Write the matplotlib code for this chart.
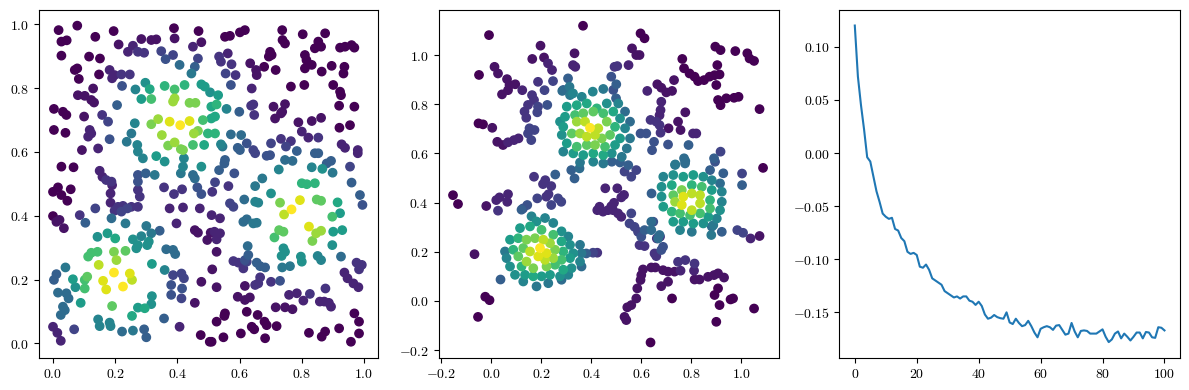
import matplotlib
matplotlib.use("Agg")
import matplotlib.pyplot as plt
import numpy as np
from matplotlib.ticker import FuncFormatter, MultipleLocator

plt.rcParams['mathtext.fontset'] = 'cm'

# ---- panel 1: uniform-ish samples, colour = density value ----
x1 = [0.018, 0.078, 0.195, 0.136, 0.027, 0.044, 0.211, 0.284, 0.316, 0.332,
      0.389, 0.391, 0.468, 0.477, 0.450, 0.027, 0.116, 0.151, 0.241, 0.257,
      0.273, 0.293, 0.348, 0.362, 0.386, 0.466, 0.407, 0.456, 0.445, 0.078,
      0.070, 0.148, 0.182, 0.190, 0.198, 0.220, 0.247, 0.083, 0.222, 0.265,
      0.297, 0.311, 0.359, 0.391, 0.423, 0.477, 0.488, 0.129, 0.080, 0.102,
      0.123, 0.132, 0.284, 0.316, 0.386, 0.391, 0.439, 0.458, 0.509, 0.003,
      0.032, 0.043, 0.206, 0.100, 0.158, 0.177, 0.263, 0.338, 0.316, 0.375,
      0.409, 0.439, 0.482, 0.509, 0.003, 0.040, 0.118, 0.113, 0.123, 0.182,
      0.252, 0.350, 0.453, 0.466, 0.498, 0.237, 0.271, 0.273, 0.370, 0.391,
      0.411, 0.418, 0.450, 0.486, 0.093, 0.145, 0.289, 0.332, 0.359, 0.418,
      0.421, 0.477, 0.027, 0.066, 0.150, 0.159, 0.171, 0.188, 0.273, 0.298,
      0.327, 0.411, 0.450, 0.456, 0.273,
      # upper right
      0.617, 0.601, 0.553, 0.569, 0.737, 0.746, 0.738, 0.803, 0.875, 0.853,
      0.862, 0.842, 0.923, 0.939, 0.960, 0.969, 0.534, 0.540, 0.562, 0.574,
      0.555, 0.587, 0.634, 0.653, 0.655, 0.679, 0.698, 0.694, 0.703, 0.716,
      0.810, 0.815, 0.810, 0.832, 0.864, 0.896, 0.937, 0.934, 0.572, 0.639,
      0.765, 0.808, 0.901, 0.923, 0.926, 0.505, 0.531, 0.526, 0.558, 0.521,
      0.599, 0.644, 0.637, 0.647, 0.709, 0.746, 0.737, 0.733, 0.714, 0.789,
      0.800, 0.832, 0.862, 0.920, 0.969, 0.921, 0.955, 0.521, 0.572, 0.605,
      0.540, 0.545, 0.594, 0.601, 0.623, 0.644, 0.650, 0.687, 0.698, 0.701,
      0.733, 0.749, 0.765, 0.784, 0.821, 0.853, 0.842, 0.853, 0.928, 0.939,
      0.980, 0.980, 0.746, 0.770, 0.553, 0.551, 0.534, 0.583, 0.673, 0.726,
      0.832, 0.866, 0.899, 0.880, 0.894, 0.955, 0.521,
      # lower left
      0.000, 0.016, 0.027, 0.046, 0.057, 0.190, 0.185, 0.185, 0.273, 0.279,
      0.136, 0.209, 0.225, 0.239, 0.220, 0.198, 0.252, 0.273, 0.357, 0.389,
      0.415, 0.375, 0.418, 0.464, 0.477, 0.472, 0.000, 0.011, 0.021, 0.035,
      0.086, 0.104, 0.188, 0.233, 0.300, 0.316, 0.343, 0.397, 0.456, 0.466,
      0.496, 0.507, 0.143, 0.175, 0.200, 0.257, 0.273, 0.268, 0.284, 0.308,
      0.303, 0.113, 0.123, 0.143, 0.196, 0.204, 0.233, 0.147, 0.196, 0.161,
      0.171, 0.225, 0.247, 0.254, 0.318, 0.364, 0.386, 0.393, 0.359, 0.110,
      0.102, 0.102, 0.064, 0.072, 0.040, 0.011, 0.003, 0.016, 0.043, 0.050,
      0.032, 0.025, 0.038, 0.089, 0.190, 0.318, 0.316, 0.295, 0.273, 0.254,
      0.145, 0.150, 0.182, 0.185, 0.222, 0.257, 0.293, 0.300, 0.357, 0.386,
      0.413, 0.421, 0.380, 0.415, 0.413, 0.380, 0.477, 0.456, 0.407, 0.000,
      0.014, 0.025, 0.068, 0.475, 0.504,
      # lower right
      0.800, 0.816, 0.842, 0.960, 0.650, 0.564, 0.512, 0.701, 0.615, 0.650,
      0.660, 0.569, 0.580, 0.730, 0.794, 0.767, 0.743, 0.848, 0.862, 0.915,
      0.987, 0.995, 0.923, 0.898, 0.537, 0.612, 0.623, 0.644, 0.655, 0.510,
      0.519, 0.537, 0.526, 0.727, 0.741, 0.712, 0.823, 0.846, 0.862, 0.834,
      0.901, 0.930, 0.898, 0.626, 0.526, 0.741, 0.746, 0.735, 0.797, 0.800,
      0.851, 0.862, 0.926, 0.628, 0.617, 0.623, 0.580, 0.596, 0.612, 0.655,
      0.666, 0.682, 0.737, 0.762, 0.976, 0.993, 0.984, 0.512, 0.937, 0.947,
      0.966, 0.982, 0.666, 0.660, 0.650, 0.701, 0.730, 0.617, 0.526, 0.759,
      0.784, 0.826, 0.876, 0.805, 0.858, 0.872, 0.887, 0.894, 0.594, 0.617,
      0.633, 0.716, 0.746, 0.770, 0.623, 0.658, 0.680, 0.687, 0.553, 0.551,
      0.526, 0.639, 0.647, 0.719, 0.969, 0.984, 0.920, 0.823, 0.875, 0.864,
      0.984, 0.958, 0.548, 0.510, 0.604, 0.682]

y1 = [0.982, 0.996, 0.979, 0.961, 0.946, 0.950, 0.937, 0.954, 0.951, 0.953,
      0.988, 0.956, 0.979, 0.944, 0.930, 0.902, 0.899, 0.893, 0.914, 0.933,
      0.914, 0.911, 0.916, 0.891, 0.904, 0.893, 0.873, 0.867, 0.846, 0.862,
      0.857, 0.843, 0.857, 0.831, 0.841, 0.843, 0.843, 0.829, 0.807, 0.796,
      0.817, 0.797, 0.807, 0.796, 0.810, 0.812, 0.805, 0.799, 0.778, 0.776,
      0.763, 0.755, 0.766, 0.766, 0.758, 0.768, 0.754, 0.754, 0.742, 0.735,
      0.726, 0.716, 0.747, 0.711, 0.716, 0.695, 0.690, 0.703, 0.687, 0.695,
      0.684, 0.697, 0.700, 0.705, 0.669, 0.660, 0.669, 0.648, 0.658, 0.640,
      0.658, 0.653, 0.658, 0.666, 0.658, 0.632, 0.622, 0.601, 0.620, 0.630,
      0.609, 0.606, 0.622, 0.622, 0.606, 0.611, 0.580, 0.587, 0.570, 0.554,
      0.580, 0.554, 0.554, 0.552, 0.541, 0.522, 0.512, 0.507, 0.528, 0.533,
      0.528, 0.533, 0.528, 0.517, 0.507,
      # upper right
      0.982, 0.975, 0.961, 0.964, 0.982, 0.940, 0.951, 0.969, 0.972, 0.946,
      0.930, 0.925, 0.927, 0.930, 0.935, 0.927, 0.899, 0.883, 0.909, 0.875,
      0.846, 0.841, 0.878, 0.857, 0.841, 0.867, 0.914, 0.899, 0.904, 0.857,
      0.904, 0.888, 0.862, 0.873, 0.852, 0.870, 0.867, 0.846, 0.810, 0.799,
      0.805, 0.810, 0.810, 0.789, 0.778, 0.787, 0.778, 0.749, 0.735, 0.711,
      0.726, 0.749, 0.745, 0.716, 0.742, 0.750, 0.726, 0.721, 0.705, 0.693,
      0.664, 0.697, 0.707, 0.745, 0.742, 0.676, 0.684, 0.658, 0.655, 0.653,
      0.624, 0.617, 0.613, 0.606, 0.627, 0.606, 0.596, 0.588, 0.590, 0.627,
      0.641, 0.617, 0.634, 0.603, 0.645, 0.645, 0.596, 0.596, 0.624, 0.613,
      0.606, 0.596, 0.575, 0.572, 0.575, 0.564, 0.543, 0.533, 0.517, 0.545,
      0.552, 0.547, 0.535, 0.564, 0.572, 0.554, 0.505,
      # lower left
      0.475, 0.489, 0.465, 0.447, 0.483, 0.496, 0.470, 0.441, 0.481, 0.460,
      0.423, 0.428, 0.431, 0.423, 0.413, 0.416, 0.428, 0.428, 0.489, 0.468,
      0.483, 0.423, 0.426, 0.489, 0.468, 0.423, 0.399, 0.381, 0.387, 0.361,
      0.402, 0.378, 0.392, 0.376, 0.368, 0.345, 0.353, 0.376, 0.355, 0.347,
      0.324, 0.347, 0.334, 0.345, 0.329, 0.326, 0.308, 0.298, 0.336, 0.319,
      0.308, 0.272, 0.284, 0.287, 0.287, 0.261, 0.290, 0.246, 0.222, 0.196,
      0.169, 0.178, 0.219, 0.199, 0.249, 0.295, 0.293, 0.280, 0.230, 0.209,
      0.199, 0.172, 0.201, 0.176, 0.238, 0.217, 0.199, 0.159, 0.157, 0.141,
      0.115, 0.089, 0.104, 0.127, 0.117, 0.148, 0.123, 0.110, 0.112, 0.086,
      0.075, 0.054, 0.065, 0.054, 0.037, 0.040, 0.044, 0.019, 0.078, 0.214,
      0.219, 0.204, 0.183, 0.172, 0.141, 0.152, 0.193, 0.127, 0.052, 0.052,
      0.033, 0.008, 0.044, 0.026, 0.005,
      # lower right
      0.502, 0.499, 0.502, 0.504, 0.493, 0.493, 0.475, 0.470, 0.451, 0.444,
      0.441, 0.439, 0.428, 0.441, 0.449, 0.420, 0.404, 0.451, 0.447, 0.442,
      0.465, 0.434, 0.408, 0.397, 0.392, 0.381, 0.389, 0.376, 0.378, 0.402,
      0.350, 0.345, 0.326, 0.355, 0.350, 0.332, 0.366, 0.345, 0.353, 0.321,
      0.350, 0.355, 0.308, 0.305, 0.287, 0.298, 0.287, 0.274, 0.272, 0.256,
      0.274, 0.261, 0.272, 0.277, 0.261, 0.256, 0.258, 0.253, 0.235, 0.253,
      0.242, 0.238, 0.238, 0.242, 0.253, 0.246, 0.232, 0.232, 0.222, 0.204,
      0.188, 0.176, 0.207, 0.188, 0.183, 0.193, 0.196, 0.180, 0.176, 0.152,
      0.157, 0.155, 0.172, 0.134, 0.131, 0.131, 0.127, 0.115, 0.146, 0.136,
      0.144, 0.113, 0.113, 0.107, 0.099, 0.089, 0.068, 0.057, 0.094, 0.086,
      0.068, 0.052, 0.044, 0.054, 0.094, 0.068, 0.047, 0.033, 0.037, 0.021,
      0.031, 0.005, 0.019, 0.005, 0.031, 0.016]

c1 = [0, 0, 0, 0, 0, 0, .05, .05, .05, .05,
      0, .05, 0, .05, .1, 0, 0, 0, .1, .1,
      .15, .15, .2, .25, .2, .2, .35, .3, .4, 0,
      0, 0, .1, .1, .1, .15, .15, 0, .25, .45,
      .5, .6, .65, .7, .65, .55, .55, .05, .05, .05,
      .05, .05, .55, .7, .85, .85, .8, .8, .6, 0,
      0, 0, .3, .05, .15, .2, .45, .85, .8, .95,
      1, .95, .7, .6, 0, 0, .1, .1, .1, .25,
      .4, .85, .85, .8, .65, .4, .45, .45, .8, .85,
      .8, .8, .7, .6, .05, .1, .45, .55, .5, .45,
      .45, .5, 0, 0, .1, .1, .15, .15, .25, .3,
      .4, .4, .35, .35, .25,
      # upper right
      0, 0, 0, 0, 0, 0, 0, 0, 0, 0,
      0, 0, 0, 0, 0, 0, .15, .15, .1, .15,
      .2, .15, .05, .05, .05, 0, 0, 0, 0, 0,
      0, 0, 0, 0, 0, 0, 0, 0, .25, .1,
      0, 0, 0, 0, 0, .5, .55, .65, .45, .6,
      .3, .15, .15, .15, .05, .05, .05, .05, .05, .05,
      .1, .05, .05, 0, 0, 0, 0, .65, .35, .35,
      .45, .4, .3, .3, .25, .2, .2, .25, .25, .2,
      .15, .2, .15, .3, .1, .15, .3, .3, .1, .1,
      .1, .1, .35, .35, .3, .3, .3, .25, .4, .45,
      .45, .5, .4, .3, .3, .2, .2,
      # lower left
      0, 0, 0, 0, 0, .1, .1, .1, .15, .15,
      .2, .15, .15, .2, .2, .15, .15, .15, .15, .15,
      .15, .1, .1, .25, .25, .1, 0, .05, .05, .05,
      .15, .3, .35, .4, .4, .4, .3, .1, .05, .05,
      .05, .05, .5, .55, .6, .5, .5, .5, .45, .5,
      .5, .7, .7, .7, .8, .85, .75, .9, 1, .95,
      .95, 1, .95, .9, .55, .35, .35, .35, .45, .75,
      .7, .7, .55, .5, .4, .3, .3, .35, .35, .35,
      .35, .35, .35, .55, .75, .5, .5, .6, .55, .6,
      .45, .45, .45, .45, .35, .4, .3, .3, .3, .2,
      .2, .2, .25, .25, .2, .25, .05, .05, .1, .1,
      .1, .1, .2, 0, 0,
      # lower right
      .65, .65, .65, .3, .4, .15, .15, .5, .35, .45,
      .45, .2, .2, .8, .95, 1, .9, .75, .75, .6,
      .3, .25, .55, .7, .1, .35, .35, .4, .4, .1,
      .1, .1, .1, .75, .75, .7, .95, .85, .85, .8,
      .55, .55, .5, .35, .05, .5, .5, .5, .5, .5,
      .45, .45, .35, .3, .25, .2, .15, .15, .15, .3,
      .3, .3, .4, .4, .15, .15, .15, .05, .1, .1,
      .1, .1, .15, .15, .15, .15, .25, .05, .05, .1,
      .1, .15, .15, .1, .1, .1, .1, .1, .05, .05,
      .05, .05, .05, .05, 0, 0, 0, 0, 0, 0,
      0, 0, 0, 0, 0, 0, 0, 0, 0, 0,
      0, 0, 0, 0, 0, 0]

# ---- panel 2: points after transport, three clusters ----
x2_blob_a = [0.288, 0.315, 0.362, 0.406, 0.448, 0.488, 0.499, 0.302, 0.342, 0.382,
             0.422, 0.462, 0.508, 0.535, 0.295, 0.335, 0.368, 0.408, 0.448, 0.488,
             0.515, 0.555, 0.275, 0.288, 0.342, 0.375, 0.395, 0.428, 0.462, 0.495,
             0.535, 0.282, 0.322, 0.355, 0.382, 0.415, 0.442, 0.475, 0.515, 0.555,
             0.302, 0.342, 0.382, 0.415, 0.455, 0.495, 0.542, 0.288, 0.328, 0.368,
             0.408, 0.448, 0.482, 0.522, 0.355, 0.408, 0.448, 0.482, 0.515, 0.548]
y2_blob_a = [0.858, 0.837, 0.830, 0.851, 0.862, 0.858, 0.824, 0.790, 0.796, 0.803,
             0.783, 0.803, 0.803, 0.770, 0.749, 0.756, 0.763, 0.770, 0.763, 0.770,
             0.742, 0.729, 0.729, 0.708, 0.729, 0.729, 0.704, 0.702, 0.729, 0.708,
             0.702, 0.675, 0.681, 0.681, 0.668, 0.675, 0.661, 0.675, 0.661, 0.661,
             0.641, 0.627, 0.634, 0.634, 0.627, 0.634, 0.620, 0.607, 0.600, 0.593,
             0.600, 0.593, 0.600, 0.586, 0.563, 0.566, 0.559, 0.566, 0.563, 0.552]
c2_blob_a = [.3, .4, .45, .45, .4, .25, .3, .55, .6, .6,
             .65, .5, .45, .35, .55, .7, .75, .75, .7, .6,
             .5, .35, .5, .55, .85, .9, 1.0, .9, .8, .65,
             .45, .5, .75, .85, .9, .9, .8, .75, .55, .4,
             .55, .7, .75, .8, .7, .55, .4, .45, .55, .55,
             .6, .6, .5, .4, .4, .45, .4, .3, .3, .3]

x2_blob_b = [0.735, 0.775, 0.875, 0.895, 0.928, 0.688, 0.728, 0.768, 0.808, 0.848,
             0.882, 0.915, 0.681, 0.722, 0.762, 0.802, 0.842, 0.882, 0.922, 0.681,
             0.728, 0.768, 0.802, 0.835, 0.875, 0.922, 0.641, 0.688, 0.735, 0.762,
             0.802, 0.835, 0.875, 0.915, 0.722, 0.755, 0.795, 0.835, 0.868, 0.902,
             0.728, 0.768, 0.808, 0.848, 0.888, 0.755, 0.802, 0.882, 0.922, 0.648,
             0.662, 0.675]
y2_blob_b = [0.553, 0.559, 0.532, 0.566, 0.519, 0.505, 0.512, 0.505, 0.512, 0.505,
             0.491, 0.478, 0.464, 0.471, 0.451, 0.471, 0.464, 0.451, 0.444, 0.424,
             0.430, 0.424, 0.437, 0.430, 0.410, 0.403, 0.437, 0.383, 0.403, 0.390,
             0.369, 0.397, 0.376, 0.369, 0.363, 0.356, 0.349, 0.356, 0.342, 0.335,
             0.322, 0.322, 0.315, 0.315, 0.308, 0.288, 0.281, 0.302, 0.281, 0.322,
             0.254, 0.261]
c2_blob_b = [.4, .35, .3, .25, .3, .45, .5, .55, .55, .5,
             .45, .35, .5, .6, .8, .65, .7, .55, .45, .5,
             .75, .95, .9, .9, .65, .45, .3, .55, .85, .95,
             .9, .9, .7, .5, .65, .7, .7, .7, .55, .45,
             .55, .55, .55, .5, .4, .45, .4, .35, .3, .25,
             .15, .15]

x2_blob_c = [0.121, 0.161, 0.181, 0.215, 0.248, 0.115, 0.155, 0.201, 0.248, 0.281,
             0.308, 0.075, 0.108, 0.141, 0.175, 0.208, 0.235, 0.281, 0.315, 0.355,
             0.055, 0.088, 0.128, 0.155, 0.195, 0.221, 0.255, 0.288, 0.328, 0.361,
             0.061, 0.108, 0.141, 0.188, 0.215, 0.248, 0.281, 0.315, 0.355, 0.075,
             0.121, 0.168, 0.221, 0.255, 0.288, 0.321, 0.361, 0.095, 0.135, 0.168,
             0.201, 0.235, 0.275, 0.308, 0.128, 0.181, 0.228, 0.281]
y2_blob_c = [0.371, 0.344, 0.323, 0.337, 0.317, 0.296, 0.303, 0.289, 0.269, 0.283,
             0.262, 0.249, 0.255, 0.249, 0.255, 0.249, 0.235, 0.242, 0.228, 0.228,
             0.201, 0.208, 0.215, 0.201, 0.215, 0.194, 0.208, 0.201, 0.194, 0.194,
             0.174, 0.181, 0.160, 0.181, 0.167, 0.174, 0.167, 0.174, 0.160, 0.140,
             0.140, 0.133, 0.140, 0.147, 0.127, 0.133, 0.140, 0.106, 0.106, 0.100,
             0.100, 0.106, 0.100, 0.106, 0.079, 0.059, 0.072, 0.086]
c2_blob_c = [.3, .45, .5, .45, .45, .55, .6, .7, .7, .5,
             .45, .55, .65, .8, .8, .9, .85, .6, .5, .4,
             .4, .65, .75, .9, 1.0, .95, .8, .65, .5, .4,
             .45, .75, .85, .95, .9, .85, .7, .55, .45, .5,
             .65, .8, .8, .7, .6, .5, .35, .5, .55, .6,
             .55, .55, .5, .45, .45, .4, .4, .35]

x2_loose = [0.367, -0.009, 0.197, 0.333, 0.164, 0.211, 0.227, 0.243, 0.327, 0.336,
            -0.049, 0.013, 0.027, 0.063, 0.073, 0.096, 0.043, 0.067, 0.124, 0.187,
            0.213, 0.247, 0.307, 0.284, 0.313, 0.327, 0.163, 0.171, 0.147, 0.133,
            0.140, 0.187, 0.184, 0.224, -0.051, -0.033, 0.004, 0.153, 0.173, 0.147,
            0.160, 0.024, 0.047, 0.067, 0.091, 0.109, 0.171, 0.216, 0.256, 0.320,
            0.333, 0.353,
            0.597, 0.613, 0.563, 0.580, 0.593, 0.549, 0.493, 0.504, 0.480, 0.500,
            0.896, 0.917, 0.976, 1.024, 1.033, 1.051, 0.764, 0.771, 0.793, 0.813,
            0.827, 0.851, 0.873, 0.893, 0.913, 0.904, 0.900, 0.731, 0.664, 0.680,
            0.723, 0.700, 0.624, 0.907, 0.917, 0.940, 0.971, 0.989, 1.073, 0.680,
            0.677, 0.673, 0.776, 0.637, 0.660, 0.673, 0.709, 0.747, 0.757, 0.807,
            0.820, 0.677, 0.597, 0.620, 0.651, 0.643, 0.707, 0.789, 0.917, 0.891,
            0.771, 0.776, 0.736, 0.533, 0.560, 0.580, 1.003, 1.087,
            -0.153, -0.133, -0.020, 0.020, 0.033, 0.067, 0.064, 0.027, 0.127, 0.144,
            0.184, 0.207, 0.240, 0.220, 0.229, 0.240, 0.267, 0.280, 0.424, 0.433,
            -0.067, 0.037, -0.024, -0.007, -0.053, 0.380, 0.407, 0.424,
            0.456, 0.504, 0.531, 0.520, 0.491, 0.480, 0.433, 0.447, 0.467, 0.487,
            0.507, 0.520, 0.560, 0.553, 0.573, 0.587, 0.613, 0.600, 0.640, 0.640,
            0.673, 0.667, 0.687, 0.680, 0.593, 0.613, 0.653, 0.660, 1.003, 0.984,
            1.007, 1.037, 1.073, 0.880, 0.747, 0.776, 0.813, 0.811, 0.607, 0.600,
            0.597, 0.640, 0.656, 0.687, 0.707, 0.733, 0.757, 0.813, 0.833, 0.867,
            0.891, 0.907, 0.931, 0.707, 0.680, 0.584, 0.580, 0.560, 0.544, 0.533,
            0.540, 0.723, 0.907, 0.893, 0.957, 0.967, 0.913, 1.051, 0.900, 0.637]
y2_loose = [1.119, 1.081, 1.038, 1.007, 0.984, 0.990, 0.966, 0.939, 0.959, 0.952,
            0.919, 0.952, 0.925, 0.902, 0.878, 0.881, 0.840, 0.857, 0.857, 0.891,
            0.857, 0.894, 0.905, 0.854, 0.871, 0.844, 0.837, 0.817, 0.797, 0.770,
            0.745, 0.790, 0.767, 0.797, 0.722, 0.718, 0.704, 0.702, 0.695, 0.681,
            0.654, 0.647, 0.634, 0.645, 0.654, 0.661, 0.505, 0.491, 0.514, 0.532,
            0.498, 0.539,
            1.088, 1.068, 1.027, 1.000, 1.000, 0.959, 0.952, 0.955, 0.912, 0.881,
            1.034, 1.020, 1.016, 1.007, 0.986, 0.976, 0.984, 0.946, 0.925, 0.912,
            0.894, 0.898, 0.912, 0.918, 0.921, 0.959, 0.878, 0.898, 0.881, 0.867,
            0.854, 0.848, 0.854, 0.817, 0.796, 0.824, 0.826, 0.830, 0.780, 0.810,
            0.776, 0.755, 0.767, 0.736, 0.729, 0.715, 0.702, 0.729, 0.695, 0.681,
            0.681, 0.684, 0.681, 0.681, 0.647, 0.613, 0.636, 0.634, 0.607, 0.580,
            0.580, 0.569, 0.555, 0.526, 0.505, 0.532, 0.518, 0.541,
            0.430, 0.394, 0.386, 0.410, 0.421, 0.434, 0.403, 0.367, 0.376, 0.390,
            0.417, 0.475, 0.467, 0.424, 0.434, 0.390, 0.417, 0.403, 0.369, 0.383,
            0.190, 0.087, 0.017, 0.003, -0.065, 0.193, 0.196, 0.196,
            0.458, 0.458, 0.431, 0.421, 0.399, 0.385, 0.376, 0.363, 0.369, 0.369,
            0.356, 0.342, 0.356, 0.315, 0.301, 0.281, 0.288, 0.261, 0.322, 0.288,
            0.268, 0.254, 0.220, 0.207, 0.227, 0.223, 0.193, 0.182, 0.471, 0.288,
            0.277, 0.254, 0.264, 0.268, 0.159, 0.166, 0.152, 0.123, 0.128, 0.105,
            0.085, 0.136, 0.136, 0.125, 0.119, 0.119, 0.123, 0.087, 0.087, 0.098,
            0.105, 0.112, 0.095, 0.078, 0.060, 0.051, 0.010, -0.017, -0.026, -0.065,
            -0.078, 0.010, 0.051, 0.024, 0.006, 0.010, -0.017, -0.031, -0.085, -0.169]
c2_loose = [0, 0, .05, .05, .05, .05, .1, .1, .1, .1,
            0, .05, .05, .05, .05, .05, .05, .05, .1, .15,
            .2, .2, .3, .35, .4, .45, .15, .15, .15, .15,
            .15, .2, .2, .25, 0, 0, .05, .2, .2, .2,
            .2, .05, .05, .1, .1, .1, .15, .15, .3, .3,
            .3, .35,
            0, 0, .05, .05, .05, .1, .15, .15, .25, .3,
            0, 0, 0, 0, 0, 0, 0, 0, 0, 0,
            0, 0, 0, 0, 0, 0, 0, .05, .05, .05,
            .05, .05, .1, 0, 0, 0, 0, 0, 0, .1,
            .1, .1, .05, .15, .15, .15, .05, .05, .05, .1,
            .1, .15, .25, .25, .25, .25, .25, .3, .2, .3,
            .35, .35, .4, .2, .2, .2, .2, 0,
            0, 0, .05, .1, .1, .1, .1, .15, .25, .25,
            .2, .15, .15, .15, .15, .2, .2, .2, .1, .1,
            .05, .3, 0, 0, 0, .3, .2, .15,
            .1, .1, .1, .1, .1, .1, .1, .1, .1, .1,
            .1, .1, .2, .2, .2, .2, .3, .25, .35, .35,
            .35, .35, .25, .25, .15, .15, .15, .15, .3, .2,
            .2, .1, .05, .4, .15, .15, .15, .1, .05, .05,
            .05, .05, .05, .05, .05, .05, .1, .05, .05, .05,
            .05, .05, .05, .05, .05, .05, .05, .05, .05, .05,
            .05, 0, 0, 0, 0, 0, 0, 0, 0, 0]

# ---- panel 3: loss curve ----
steps = np.arange(101)
loss = [0.120, 0.072, 0.045, 0.022, -0.004, -0.008, -0.022, -0.036, -0.046, -0.057,
        -0.060, -0.062, -0.061, -0.0715, -0.073, -0.080, -0.083, -0.093, -0.095, -0.094,
        -0.096, -0.107, -0.108, -0.105, -0.110, -0.118, -0.120, -0.122, -0.124, -0.130,
        -0.132, -0.134, -0.136, -0.135, -0.137, -0.135, -0.135, -0.139, -0.140, -0.143,
        -0.140, -0.144, -0.152, -0.156, -0.155, -0.1525, -0.1545, -0.1555, -0.156, -0.150,
        -0.1595, -0.161, -0.156, -0.160, -0.163, -0.162, -0.158, -0.163, -0.169, -0.1735,
        -0.1655, -0.164, -0.163, -0.164, -0.1665, -0.1625, -0.162, -0.1665, -0.171, -0.170,
        -0.160, -0.168, -0.1735, -0.1675, -0.167, -0.1675, -0.170, -0.170, -0.170, -0.168,
        -0.166, -0.173, -0.178, -0.1755, -0.170, -0.168, -0.1745, -0.170, -0.173, -0.1765,
        -0.173, -0.169, -0.169, -0.1745, -0.1685, -0.169, -0.1735, -0.174, -0.164, -0.1645,
        -0.167]

x2 = np.concatenate([x2_blob_a, x2_blob_b, x2_blob_c, x2_loose])
y2 = np.concatenate([y2_blob_a, y2_blob_b, y2_blob_c, y2_loose])
c2 = np.concatenate([c2_blob_a, c2_blob_b, c2_blob_c, c2_loose])


def fmt(decimals):
    return FuncFormatter(lambda v, pos: '$%.*f$' % (decimals, v))


fig = plt.figure(figsize=(11.89, 3.9), dpi=100)
ax1 = fig.add_axes([0.03255, 0.0828, 0.2851, 0.8915])
ax2 = fig.add_axes([0.3688, 0.0828, 0.2860, 0.8915])
ax3 = fig.add_axes([0.7059, 0.0828, 0.2865, 0.8915])

# draw brighter points on top
o1 = np.argsort(c1, kind='stable')
ax1.scatter(np.array(x1)[o1], np.array(y1)[o1], c=np.array(c1)[o1],
            cmap='viridis', vmin=0, vmax=1)
ax1.set_xlim(-0.046, 1.044)
ax1.set_ylim(-0.045, 1.045)
ax1.xaxis.set_major_locator(MultipleLocator(0.2))
ax1.yaxis.set_major_locator(MultipleLocator(0.2))
ax1.xaxis.set_major_formatter(fmt(1))
ax1.yaxis.set_major_formatter(fmt(1))

o2 = np.argsort(c2, kind='stable')
ax2.scatter(x2[o2], y2[o2], c=c2[o2], cmap='viridis', vmin=0, vmax=1)
ax2.set_xlim(-0.211, 1.149)
ax2.set_ylim(-0.231, 1.183)
ax2.xaxis.set_major_locator(MultipleLocator(0.2))
ax2.yaxis.set_major_locator(MultipleLocator(0.2))
ax2.xaxis.set_major_formatter(fmt(1))
ax2.yaxis.set_major_formatter(fmt(1))

ax3.plot(steps, loss)
ax3.set_xlim(-5, 105)
ax3.set_ylim(-0.1927, 0.1346)
ax3.xaxis.set_major_locator(MultipleLocator(20))
ax3.yaxis.set_major_locator(MultipleLocator(0.05))
ax3.xaxis.set_major_formatter(fmt(0))
ax3.yaxis.set_major_formatter(fmt(2))

for ax in (ax1, ax2, ax3):
    ax.tick_params(labelsize=10)

fig.savefig('out.png', dpi=100)
